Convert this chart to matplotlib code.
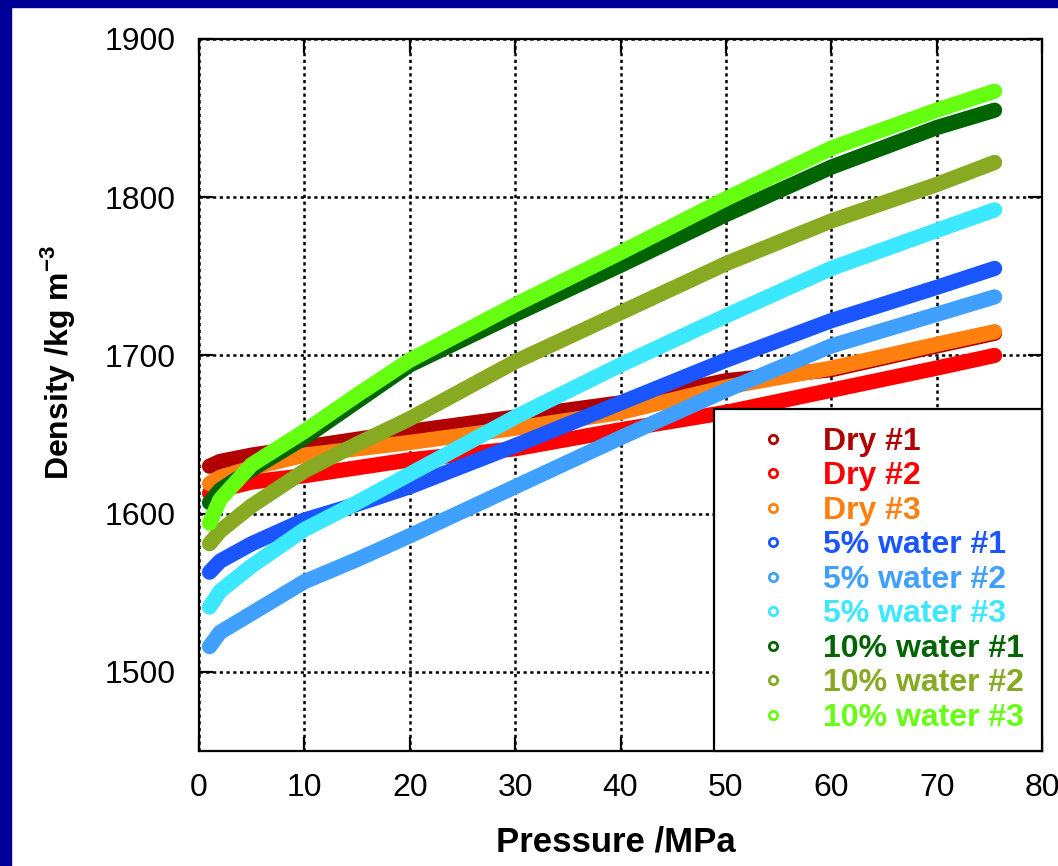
import matplotlib
matplotlib.use("Agg")
import matplotlib.pyplot as plt
from matplotlib.lines import Line2D
from matplotlib.patches import Rectangle

# ---- data ----
pressure = [1, 2, 5, 10, 15, 20, 30, 40, 50, 60, 70, 75.5]

dry_1 = [1630, 1633, 1637, 1642, 1647, 1652, 1661, 1670, 1684, 1691, 1706, 1714]
dry_2 = [1613, 1615, 1620, 1624, 1629, 1634, 1641, 1653, 1664, 1678, 1692, 1700]
dry_3 = [1619, 1623, 1629, 1637, 1641, 1645, 1654, 1664, 1680, 1692, 1707, 1715]
w5_1 = [1563, 1570, 1581, 1596, 1606, 1617, 1643, 1670, 1697, 1722, 1743, 1755]
w5_2 = [1516, 1525, 1537, 1557, 1571, 1586, 1617, 1648, 1678, 1706, 1726, 1737]
w5_3 = [1541, 1551, 1567, 1590, 1607, 1625, 1661, 1694, 1725, 1755, 1779, 1792]
w10_1 = [1607, 1615, 1628, 1648, 1671, 1694, 1726, 1757, 1789, 1819, 1844, 1855]
w10_2 = [1581, 1589, 1605, 1627, 1644, 1660, 1696, 1727, 1758, 1785, 1808, 1822]
w10_3 = [1594, 1609, 1631, 1652, 1675, 1697, 1732, 1765, 1799, 1831, 1855, 1867]

labels = ["Dry #1", "Dry #2", "Dry #3",
          "5% water #1", "5% water #2", "5% water #3",
          "10% water #1", "10% water #2", "10% water #3"]
series = [dry_1, dry_2, dry_3, w5_1, w5_2, w5_3, w10_1, w10_2, w10_3]
colors = ["#b00000", "#ff0000", "#ff7f0f",
          "#1a55ff", "#40a0ff", "#3ce8ff",
          "#006400", "#88aa22", "#66ff11"]

x_ticks = [0, 10, 20, 30, 40, 50, 60, 70, 80]
y_ticks = [1500, 1600, 1700, 1800, 1900]

# ---- figure ----
plt.rcParams['font.family'] = ['Liberation Sans', 'DejaVu Sans']
plt.rcParams['mathtext.fontset'] = 'custom'
plt.rcParams['mathtext.rm'] = 'Liberation Sans:bold'
plt.rcParams['mathtext.bf'] = 'Liberation Sans:bold'

W, H = 1058, 866
fig = plt.figure(figsize=(W / 100, H / 100), dpi=100)
fig.patch.set_facecolor("white")

# blue frame strips (left and top)
fig.patches.append(Rectangle((0, 0), 11 / W, 1, transform=fig.transFigure,
                             color="#000099", zorder=0))
fig.patches.append(Rectangle((0, 1 - 7 / H), 1, 7 / H, transform=fig.transFigure,
                             color="#000099", zorder=0))

ax_l, ax_r, ax_t, ax_b = 199, 1042, 39, 751
ax = fig.add_axes([ax_l / W, 1 - ax_b / H, (ax_r - ax_l) / W, (ax_b - ax_t) / H])

for lab, ys, c in zip(labels, series, colors):
    ax.plot(pressure, ys, color=c, lw=11, solid_capstyle='round',
            solid_joinstyle='round', zorder=3)

ax.set_xlim(0, 80)
ax.set_ylim(1450, 1900)
ax.set_xticks(x_ticks)
ax.set_yticks(y_ticks)
ax.set_xticklabels([str(v) for v in x_ticks])
ax.set_yticklabels([str(v) for v in y_ticks])

ax.grid(True, color="black", linestyle=(0, (1.3, 1.4)), linewidth=1.8, zorder=1)
ax.set_axisbelow(True)

for s in ax.spines.values():
    s.set_linewidth(1.6)
    s.set_color("black")
    s.set_zorder(5)

ax.tick_params(axis='both', direction='in', length=10, width=1.6,
               top=True, right=True, labelsize=23, colors='black')
ax.tick_params(axis='y', pad=17)
ax.tick_params(axis='x', pad=16)

ax.set_xlabel("Pressure /MPa", fontsize=25, fontweight='bold')
ax.set_ylabel(r"Density /kg m$^{-3}$", fontsize=23, fontweight='bold')
ax.xaxis.set_label_coords(0.495, -0.105)
ax.yaxis.set_label_coords(-0.145, 0.546)

handles = [Line2D([], [], marker='o', markersize=6, markerfacecolor='none',
                  markeredgecolor=c, markeredgewidth=2, linestyle='none')
           for c in colors]
leg = ax.legend(handles, labels, loc='lower right', bbox_to_anchor=(1.0, 0.0),
                frameon=True, fancybox=False, framealpha=1, borderaxespad=0,
                prop={'family': 'Liberation Sans', 'weight': 'bold', 'size': 23},
                handlelength=2.6, handletextpad=0.25, labelspacing=0.14,
                borderpad=0.57)
leg.get_frame().set_edgecolor("black")
leg.get_frame().set_linewidth(1.6)
leg.get_frame().set_facecolor("white")
leg.set_zorder(6)
for t, c in zip(leg.get_texts(), colors):
    t.set_color(c)

fig.savefig("out.png", dpi=100, facecolor=fig.get_facecolor())
